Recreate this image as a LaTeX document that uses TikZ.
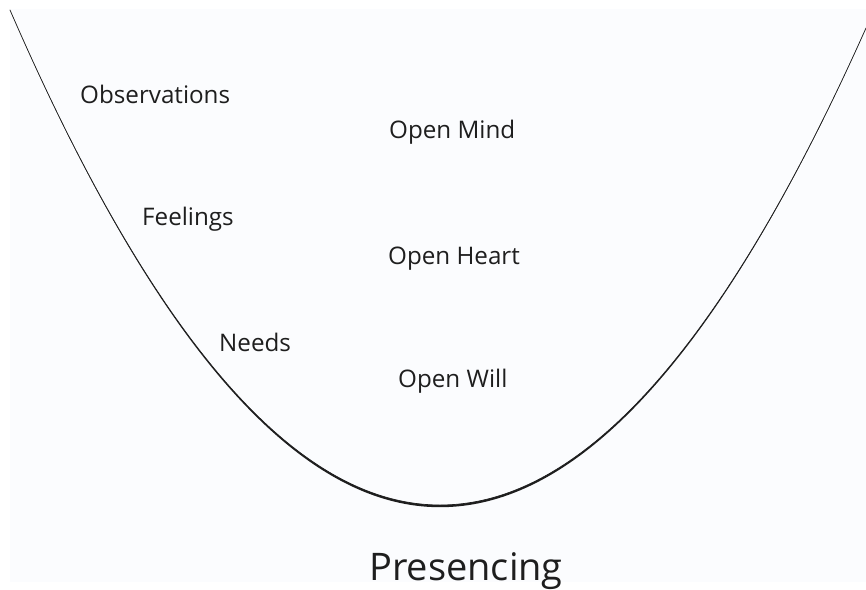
\documentclass[tikz,border=0pt]{standalone}
\usepackage{fontspec}
\setmainfont{Open Sans}
\usetikzlibrary{positioning}
\definecolor{paper}{RGB}{251,252,254}
\definecolor{ink}{RGB}{30,30,30}
\tikzset{label/.style = {anchor = base west, inner sep = 0, text = ink,
                         font = \fontsize{24.2}{28}\selectfont}}
\tikzset{title/.style = {label, font = \fontsize{38}{44}\selectfont}}
\tikzset{u/.style = {draw = ink, line width = 0.7pt, line cap = round}}

\begin{document}
\begin{tikzpicture}[x = 1pt, y = -1pt]
    \useasboundingbox (0, 0) rectangle (866, 589);
    \fill [paper] (10, 9) rectangle (866, 582);

    % the U, thicker at the bottom
    \coordinate (top l) at (10, 10);
    \coordinate (bottom) at (440, 505);
    \coordinate (top r) at (866, 28);
    \fill [ink] (top l) .. controls (153.3, 340) and (296.7, 505) .. (bottom)
                        .. controls (582, 505) and (724, 346) .. (top r)
                        .. controls (724, 348) and (582, 507.2) .. (440, 507.2)
                        .. controls (296.7, 507.2) and (153.3, 342) .. cycle;
    \draw [u] (top l) .. controls (153.3, 340) and (296.7, 505) .. (bottom)
                      .. controls (582, 505) and (724, 346) .. (top r);

    \node [label] (obs) at (80, 103) {Observations};
    \node [label] (feel) at (142, 225) {Feelings};
    \node [label] (needs) at (219, 351) {Needs};
    \node [label] (mind) at (389, 138) {Open Mind};
    \node [label] (heart) at (388, 264) {Open Heart};
    \node [label] (will) at (398, 387) {Open Will};
    \node [title] (pres) at (369, 580) {Presencing};
  \end{tikzpicture}
\end{document}
